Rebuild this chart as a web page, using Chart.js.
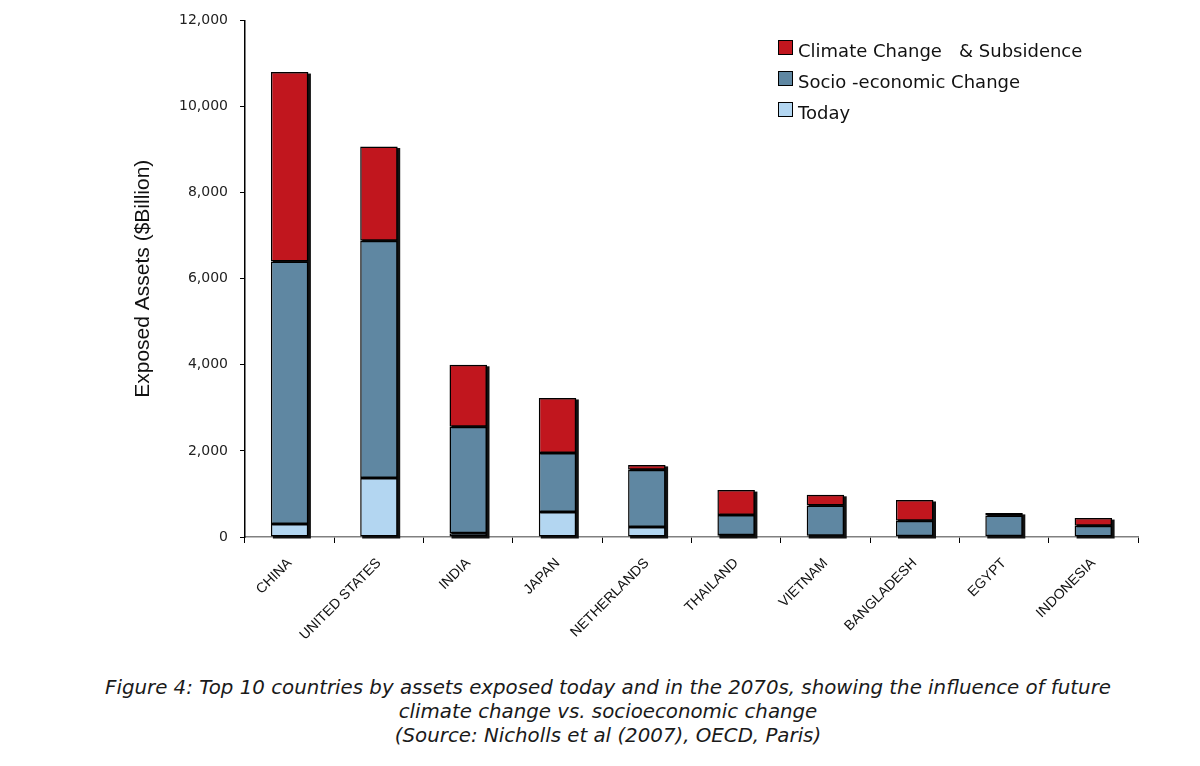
<!DOCTYPE html>
<html>
<head>
<meta charset="utf-8">
<script src="https://cdn.jsdelivr.net/npm/chart.js@4.4.1/dist/chart.umd.min.js"></script>
<style>
    body { margin: 0; background: #fff; width: 1200px; height: 766px; position: relative; overflow: hidden; }
    #wrap { position: absolute; left: 0; top: 0; width: 1200px; height: 670px; }
    #legend { position: absolute; left: 778px; top: 35px; font-family: "DejaVu Sans", sans-serif; font-size: 18px; color: #111; }
    #legend div { height: 31px; line-height: 24px; display: flex; align-items: center; white-space: pre; }
    #legend span.box { display: inline-block; width: 13px; height: 13px; border: 1px solid #000; margin-right: 5px; margin-top: -6px; }
    #caption { position: absolute; left: 0; width: 1216px; top: 676px; text-align: center; font-family: "DejaVu Sans", sans-serif; font-style: italic; font-size: 19.8px; line-height: 24px; color: #1a1a1a; }
</style>
</head>
<body>
<div id="wrap"><canvas id="assetsChart" width="1200" height="670"></canvas></div>
<div id="legend"></div>
<div id="caption">Figure 4: Top 10 countries by assets exposed today and in the 2070s, showing the influence of future<br>climate change vs. socioeconomic change<br>(Source: Nicholls et al (2007), OECD, Paris)</div>
<script>
const countries = ['CHINA', 'UNITED STATES', 'INDIA', 'JAPAN', 'NETHERLANDS', 'THAILAND', 'VIETNAM', 'BANGLADESH', 'EGYPT', 'INDONESIA'];
// stacked pieces, $ billion
const today = [300, 1370, 90, 580, 230, 40, 30, 20, 20, 10];
const socioEconomic = [6100, 5510, 2470, 1370, 1330, 470, 700, 360, 480, 250];
const climateSubsidence = [4400, 2190, 1440, 1280, 115, 580, 250, 480, 60, 180];
const yTicks = [0, 2000, 4000, 6000, 8000, 10000, 12000];

document.addEventListener('DOMContentLoaded', function () {
    const ctx = document.getElementById('assetsChart').getContext('2d');

    // thin dark shadow behind each stacked column (right + bottom)
    const shadowPlugin = {
        id: 'barShadow',
        beforeDatasetsDraw(chart) {
            const c = chart.ctx;
            const n = chart.data.datasets.length;
            const topMeta = chart.getDatasetMeta(n - 1);
            const baseMeta = chart.getDatasetMeta(0);
            c.save();
            c.fillStyle = '#111';
            topMeta.data.forEach((bar, i) => {
                const base = baseMeta.data[i].base;
                const w = bar.width;
                c.fillRect(bar.x - w / 2 + 2, bar.y + 1.5, w + 0.5, base - bar.y + 0.5);
            });
            c.restore();
        }
    };

    const chart = new Chart(ctx, {
        type: 'bar',
        data: {
            labels: countries,
            datasets: [{
                label: 'Today',
                data: today,
                backgroundColor: '#B3D6F1'
            }, {
                label: 'Socio -economic Change',
                data: socioEconomic,
                backgroundColor: '#5F87A2'
            }, {
                label: 'Climate Change   & Subsidence',
                data: climateSubsidence,
                backgroundColor: '#C1161E'
            }]
        },
        options: {
            responsive: false,
            animation: false,
            layout: { padding: { left: 131, top: 14, right: 62, bottom: 0 } },
            datasets: {
                bar: {
                    borderColor: '#000',
                    borderWidth: 1.5,
                    borderSkipped: false,
                    categoryPercentage: 1,
                    barPercentage: 0.42
                }
            },
            plugins: {
                legend: { display: false },
                tooltip: { enabled: false }
            },
            scales: {
                x: {
                    stacked: true,
                    afterFit(scale) { scale.height = 133; },
                    border: { color: '#808080', width: 1.5 },
                    grid: { drawOnChartArea: false, drawTicks: true, tickLength: 6, color: '#000', offset: true },
                    ticks: {
                        minRotation: 45, maxRotation: 45, autoSkip: false, padding: 12,
                        color: '#111',
                        font: { family: 'Liberation Sans', size: 14 }
                    }
                },
                y: {
                    stacked: true,
                    min: 0,
                    max: 12000,
                    afterFit(scale) { scale.width = 114; },
                    afterBuildTicks(scale) { scale.ticks = yTicks.map(v => ({ value: v })); },
                    border: { color: '#000', width: 1.5 },
                    grid: { drawOnChartArea: false, drawTicks: true, tickLength: 5, color: '#000' },
                    title: {
                        display: true,
                        text: 'Exposed Assets ($Billion)',
                        color: '#111',
                        font: { family: 'Liberation Sans', size: 21 },
                        padding: { top: 0, bottom: 8 }
                    },
                    ticks: {
                        padding: 12,
                        color: '#222',
                        font: { family: 'DejaVu Sans', size: 14 },
                        callback: v => v.toLocaleString('en-US')
                    }
                }
            }
        },
        plugins: [shadowPlugin]
    });

    const legend = document.getElementById('legend');
    chart.data.datasets.slice().reverse().forEach(ds => {
        const row = document.createElement('div');
        const box = document.createElement('span');
        box.className = 'box';
        box.style.background = ds.backgroundColor;
        row.appendChild(box);
        row.appendChild(document.createTextNode(ds.label));
        legend.appendChild(row);
    });
});
</script>
</body>
</html>
